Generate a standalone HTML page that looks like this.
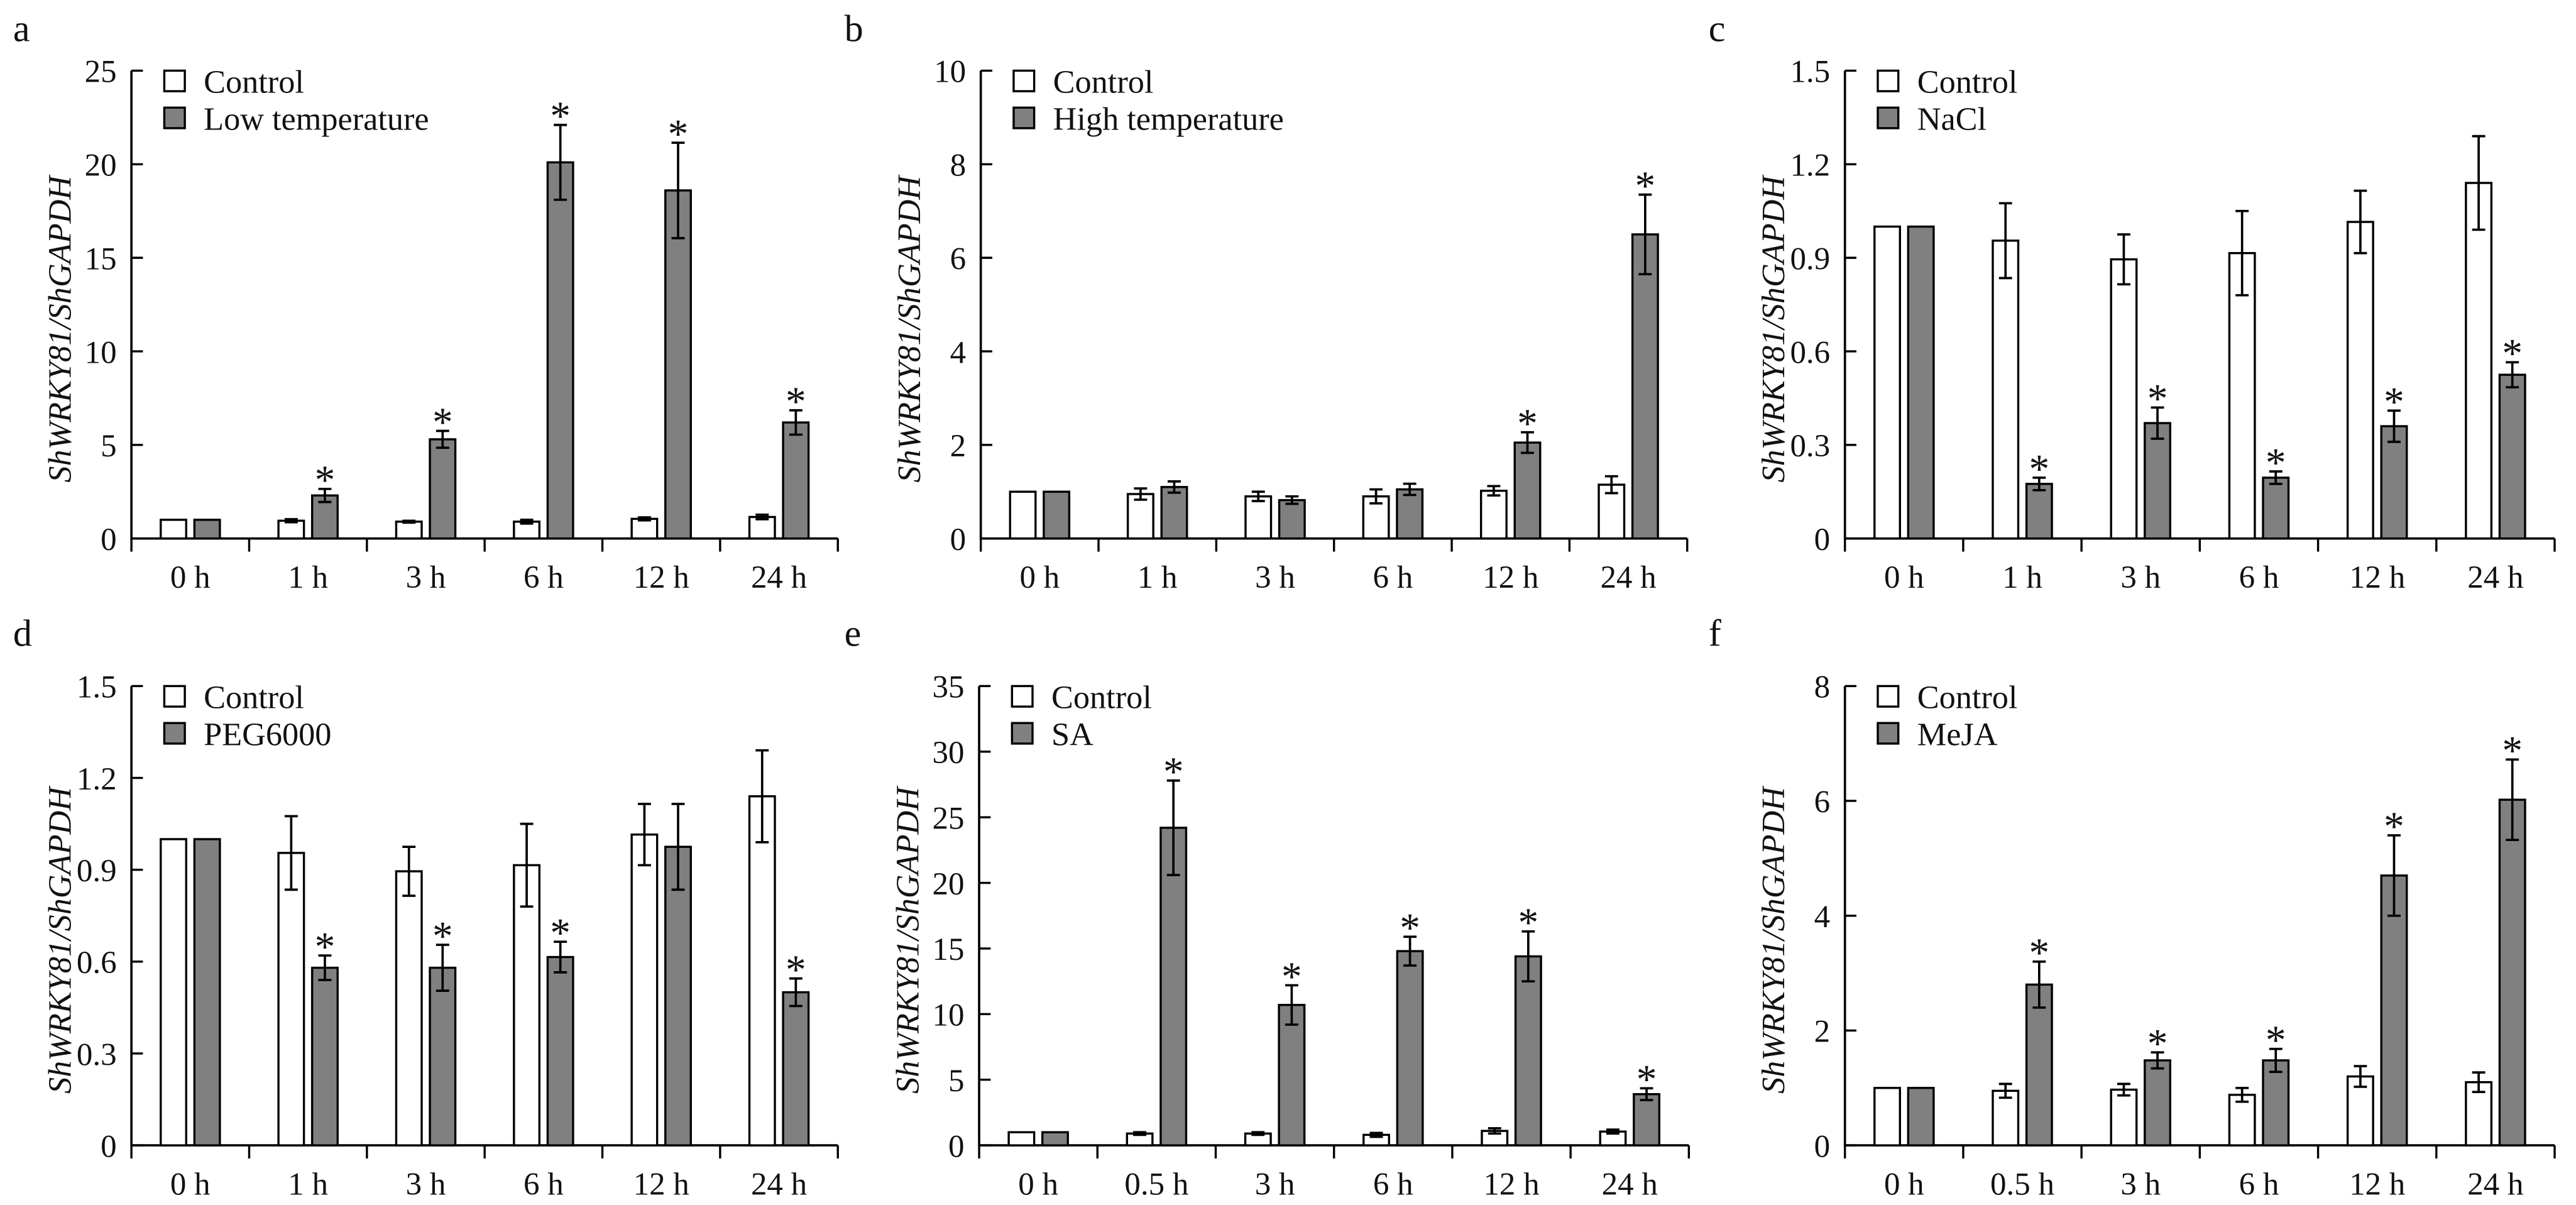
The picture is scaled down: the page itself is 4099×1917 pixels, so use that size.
<!DOCTYPE html>
<html><head><meta charset="utf-8"><style>
html,body{margin:0;padding:0;background:#fff}
svg{display:block}
text{font-family:"Liberation Serif",serif;fill:#111}
</style></head><body>
<svg id="fig" width="4099" height="1917" viewBox="0 0 1568 733.3" preserveAspectRatio="none" xmlns="http://www.w3.org/2000/svg"></svg>
<script>
// ---- data ----
const catsA = ["0 h","1 h","3 h","6 h","12 h","24 h"];
const catsE = ["0 h","0.5 h","3 h","6 h","12 h","24 h"];
const aCtrl = [1,0.95,0.9,0.9,1.05,1.15], aCtrlErr=[0,0.08,0.05,0.1,0.08,0.12];
const aTrt = [1,2.3,5.3,20.1,18.6,6.2], aTrtErr=[0,0.35,0.45,2.0,2.55,0.65];
const aStar = [0,1,1,1,1,1];
const bCtrl = [1,0.95,0.9,0.9,1.02,1.15], bCtrlErr=[0,0.12,0.1,0.15,0.1,0.18];
const bTrt = [1,1.1,0.82,1.05,2.05,6.5], bTrtErr=[0,0.12,0.08,0.12,0.22,0.85];
const bStar = [0,0,0,0,1,1];
const cCtrl = [1,0.955,0.895,0.915,1.015,1.14], cCtrlErr=[0,0.12,0.08,0.135,0.1,0.15];
const cTrt = [1,0.175,0.37,0.195,0.36,0.525], cTrtErr=[0,0.02,0.05,0.02,0.05,0.04];
const cStar = [0,1,1,1,1,1];
const dCtrl = [1,0.955,0.895,0.915,1.015,1.14], dCtrlErr=[0,0.12,0.08,0.135,0.1,0.15];
const dTrt = [1,0.58,0.58,0.615,0.975,0.5], dTrtErr=[0,0.04,0.075,0.05,0.14,0.045];
const dStar = [0,1,1,1,0,1];
const eCtrl = [1,0.9,0.9,0.8,1.1,1.05], eCtrlErr=[0,0.1,0.1,0.15,0.2,0.15];
const eTrt = [1,24.2,10.7,14.8,14.4,3.9], eTrtErr=[0,3.6,1.5,1.1,1.9,0.45];
const eStar = [0,1,1,1,1,1];
const fCtrl = [1,0.95,0.97,0.88,1.2,1.1], fCtrlErr=[0,0.12,0.1,0.12,0.18,0.17];
const fTrt = [1,2.8,1.48,1.48,4.7,6.02], fTrtErr=[0,0.4,0.14,0.2,0.7,0.7];
const fStar = [0,1,1,1,1,1];
const ticksA=[0,5,10,15,20,25], ticksB=[0,2,4,6,8,10], ticksC=["0","0.3","0.6","0.9","1.2","1.5"];
const ticksE=[0,5,10,15,20,25,30,35], ticksF=[0,2,4,6,8];

const NS="http://www.w3.org/2000/svg";
const svg=document.getElementById('fig');
function mk(tag,attrs,parent,txt){const e=document.createElementNS(NS,tag);for(const k in attrs)e.setAttribute(k,attrs[k]);if(txt!==undefined)e.textContent=txt;(parent||svg).appendChild(e);return e;}

function panel(o){
  const g=mk('g',{});
  
  
  const x0=o.x0,x1=o.x1,y0=o.y0,yT=o.yT,max=o.max;
  const ys=v=>y0-(v/max)*(y0-yT);
  const gw=(x1-x0)/o.cats.length;
  const lt=mk('text',{x:o.lx,y:o.ly,'font-size':23},g,o.letter);
  
  
  const ax=mk('path',{d:`M${x0} ${yT}V${y0}H${x1}`,stroke:'#000','stroke-width':1.4,fill:'none'},g);
  
  
  o.ticks.forEach(t=>{const v=parseFloat(t);const y=ys(v);
    mk('line',{x1:x0,x2:x0+7,y1:y,y2:y,stroke:'#000','stroke-width':1.3},g);
    const tl=mk('text',{x:x0-9,y:y+7,'font-size':19.5,'text-anchor':'end'},g,String(t));
    
    
  });
  for(let i=0;i<=o.cats.length;i++){const x=x0+i*gw;mk('line',{x1:x,x2:x,y1:y0,y2:y0+8,stroke:'#000','stroke-width':1.3},g);}
  o.cats.forEach((c,i)=>{const cx=x0+(i+0.5)*gw;
    const xl=mk('text',{x:cx,y:y0+30,'font-size':19.5,'text-anchor':'middle'},g,c);
    
    
    [[o.ctrl,o.ctrlErr,'#fff',-18,'bar-control'],[o.trt,o.trtErr,'#808080',2.5,'bar-treatment']].forEach(s=>{
      const v=s[0][i],e=s[1][i],bx=cx+s[3],bw=15.5;
      const r=mk('rect',{x:bx,y:ys(v),width:bw,height:y0-ys(v),fill:s[2],stroke:'#000','stroke-width':1.3},g);
      
      
      if(e>0){const mx=bx+bw/2,t=ys(v+e),b=ys(v-e);
        mk('path',{d:`M${mx} ${t}V${b}M${mx-4} ${t}H${mx+4}M${mx-4} ${b}H${mx+4}`,stroke:'#000','stroke-width':1.4,fill:'none'},g);}
    });
    if(o.star[i]){const mx=cx+2.5+7.75,t=ys(o.trt[i]+o.trtErr[i]);
      const st=mk('text',{x:mx,y:t+3,'font-size':25,'text-anchor':'middle'},g,'*');
      
      }
  });
  const cy=(y0+yT)/2+15, tx=x0-43;
  const tt=mk('text',{x:0,y:0,'font-size':20,'font-style':'italic','text-anchor':'middle',transform:`translate(${tx+6},${cy}) rotate(-90)`},g,'ShWRKY81/ShGAPDH');
  
  
  [['#fff','Control',0],['#808080',o.trtName,22.5]].forEach(l=>{
    const r=mk('rect',{x:x0+20,y:yT+l[2],width:12.5,height:12.5,fill:l[0],stroke:'#000','stroke-width':1.3},g);
    
    
    const t=mk('text',{x:x0+44,y:yT+l[2]+13.5,'font-size':20},g,l[1]);
    
    
  });
}
const TY0=327.7,TYT=43,BY0=697,BYT=417.5;
panel({letter:'a',lx:8,ly:25,x0:80,x1:510,y0:TY0,yT:TYT,max:25,ticks:ticksA,cats:catsA,ctrl:aCtrl,ctrlErr:aCtrlErr,trt:aTrt,trtErr:aTrtErr,star:aStar,trtName:'Low temperature'});
panel({letter:'b',lx:514,ly:25,x0:597,x1:1027,y0:TY0,yT:TYT,max:10,ticks:ticksB,cats:catsA,ctrl:bCtrl,ctrlErr:bCtrlErr,trt:bTrt,trtErr:bTrtErr,star:bStar,trtName:'High temperature'});
panel({letter:'c',lx:1040,ly:25,x0:1123,x1:1555,y0:TY0,yT:TYT,max:1.5,ticks:ticksC,cats:catsA,ctrl:cCtrl,ctrlErr:cCtrlErr,trt:cTrt,trtErr:cTrtErr,star:cStar,trtName:'NaCl'});
panel({letter:'d',lx:8,ly:393,x0:80,x1:510,y0:BY0,yT:BYT,max:1.5,ticks:ticksC,cats:catsA,ctrl:dCtrl,ctrlErr:dCtrlErr,trt:dTrt,trtErr:dTrtErr,star:dStar,trtName:'PEG6000'});
panel({letter:'e',lx:514,ly:393,x0:596,x1:1028,y0:BY0,yT:BYT,max:35,ticks:ticksE,cats:catsE,ctrl:eCtrl,ctrlErr:eCtrlErr,trt:eTrt,trtErr:eTrtErr,star:eStar,trtName:'SA'});
panel({letter:'f',lx:1040,ly:393,x0:1123,x1:1555,y0:BY0,yT:BYT,max:8,ticks:ticksF,cats:catsE,ctrl:fCtrl,ctrlErr:fCtrlErr,trt:fTrt,trtErr:fTrtErr,star:fStar,trtName:'MeJA'});
</script>
</body></html>
